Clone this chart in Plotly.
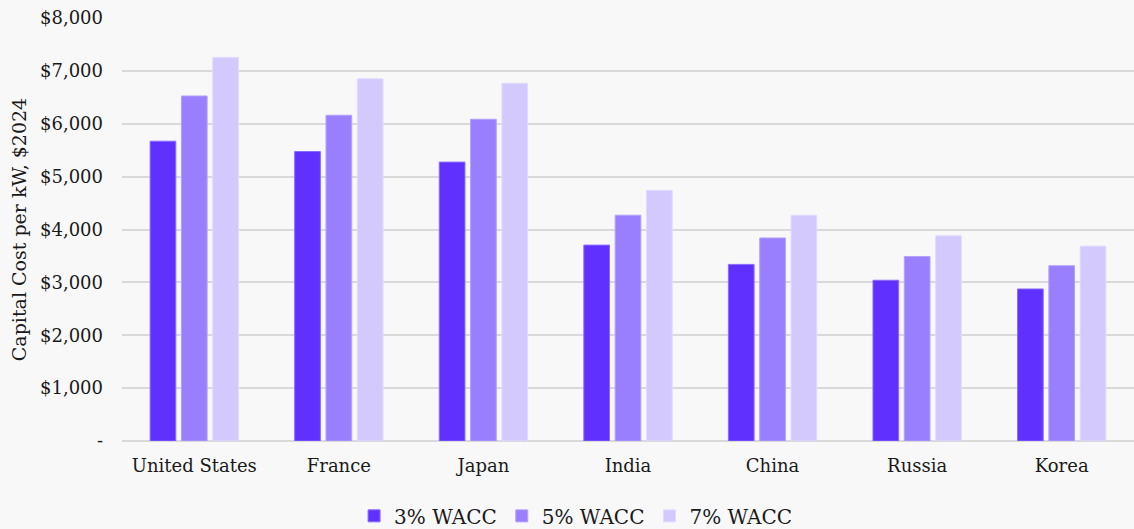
import plotly.graph_objects as go

countries = ["United States", "France", "Japan", "India", "China", "Russia", "Korea"]
wacc_3 = [5670, 5475, 5275, 3705, 3340, 3040, 2875]
wacc_5 = [6525, 6160, 6085, 4270, 3840, 3490, 3315]
wacc_7 = [7255, 6850, 6765, 4740, 4270, 3880, 3685]
series_names = ["3% WACC", "5% WACC", "7% WACC"]
y_tickvals = [0, 1000, 2000, 3000, 4000, 5000, 6000, 7000, 8000]
y_ticktext = ["-", "$1,000", "$2,000", "$3,000", "$4,000", "$5,000", "$6,000", "$7,000", "$8,000"]

fills = ["#5f30ff", "#997ffd", "#d4c9fc"]
edges = ["#8a6bff", "#b3a0fd", "#e2daff"]

fig = go.Figure()
for name, vals, fc, ec in zip(series_names, [wacc_3, wacc_5, wacc_7], fills, edges):
    fig.add_trace(go.Bar(
        x=countries, y=vals, name=name,
        marker=dict(color=fc, line=dict(color=ec, width=1)),
    ))

font_family = "DejaVu Serif"
fig.update_layout(
    width=1134, height=529,
    margin=dict(l=122, r=0, t=18, b=88, autoexpand=False),
    paper_bgcolor="#f8f8f8", plot_bgcolor="#f8f8f8",
    font=dict(family=font_family, size=18, color="#1a1a1a"),
    barmode="group", bargap=0.35, bargroupgap=0.18,
    showlegend=True,
    legend=dict(orientation="h", xref="container", x=0.508, xanchor="center",
                y=-0.177, yanchor="middle",
                font=dict(size=20), itemwidth=30, traceorder="normal"),
    xaxis=dict(showgrid=False, showline=False, ticks="", automargin=False,
               tickfont=dict(size=18), ticklabelstandoff=12),
    yaxis=dict(
        range=[0, 8000], tickvals=y_tickvals, ticktext=y_ticktext, automargin=False,
        showgrid=True, gridcolor="#d9d9d9", gridwidth=2,
        zeroline=True, zerolinecolor="#d9d9d9", zerolinewidth=2,
        ticks="", ticklabelstandoff=18, tickfont=dict(size=18),
        title=dict(text="Capital Cost per kW, $2024", font=dict(size=19), standoff=8),
    ),
)

fig.write_html("out.html")
